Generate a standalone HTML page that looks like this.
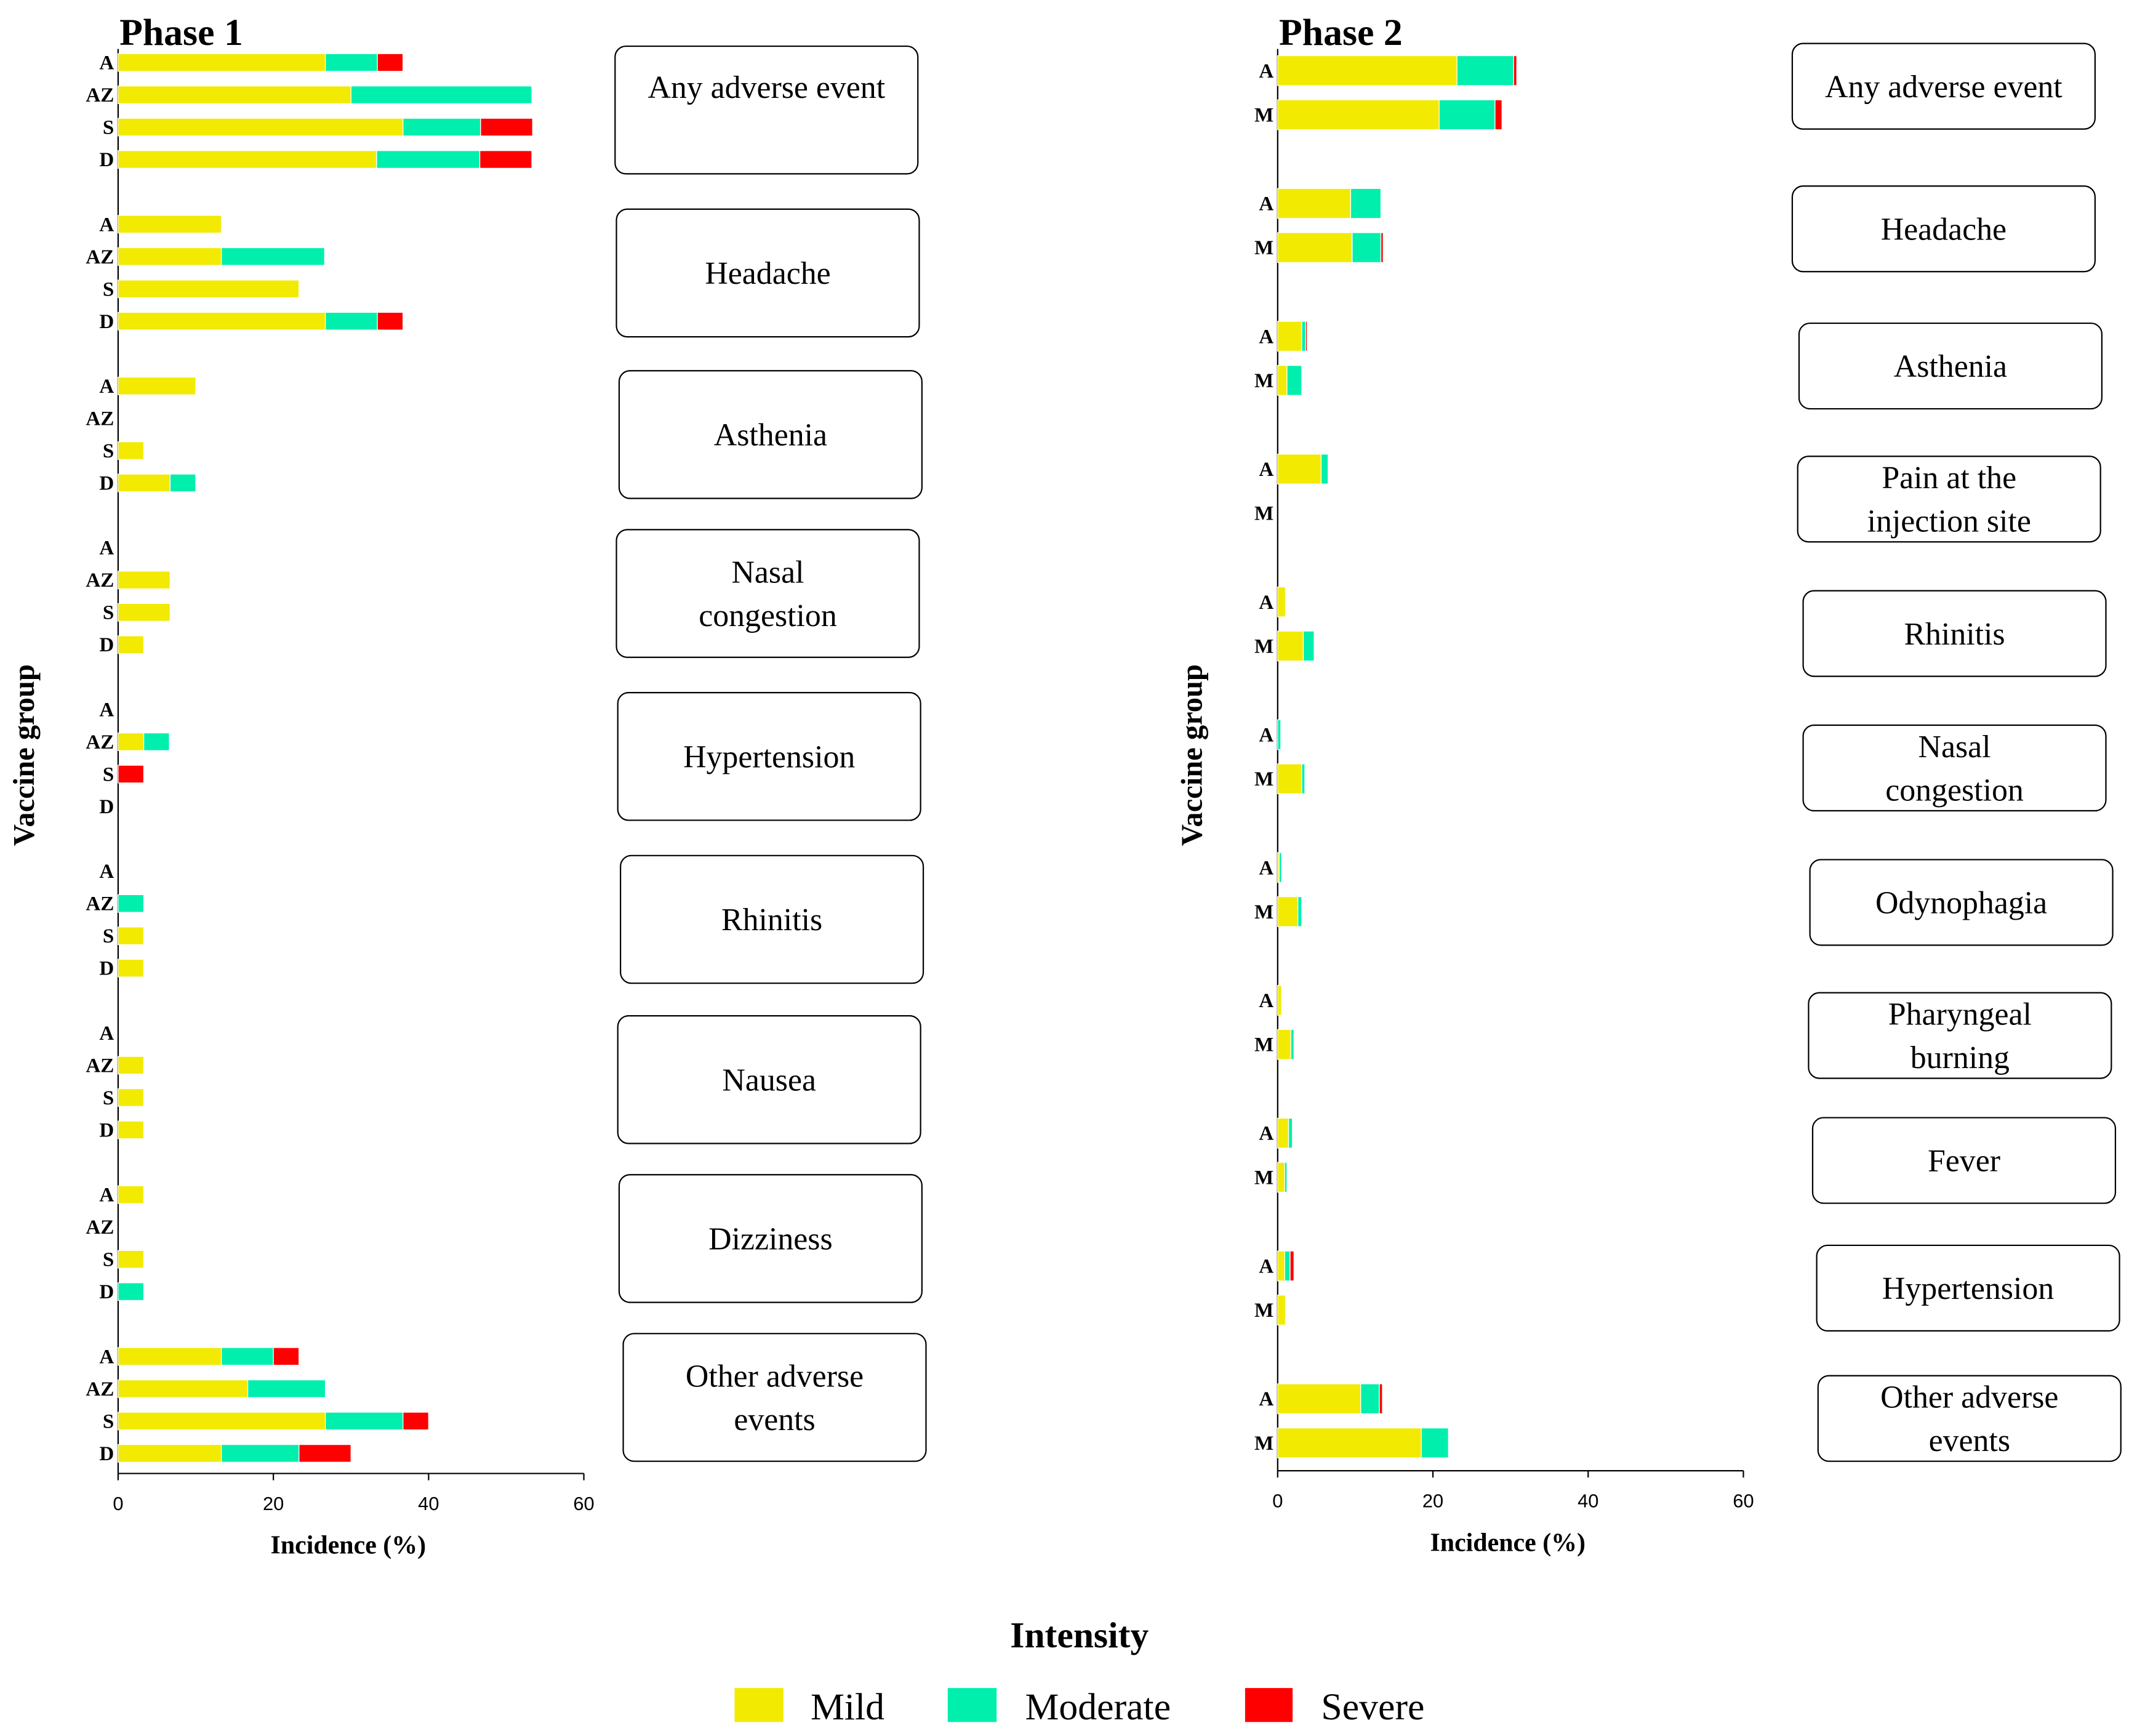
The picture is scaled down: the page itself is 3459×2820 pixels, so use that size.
<!DOCTYPE html>
<html><head><meta charset="utf-8"><style>
html,body{margin:0;padding:0;background:#fff;}
svg{display:block;}
</style></head><body>
<svg id="chart" width="3459" height="2820" viewBox="0 0 1568 1278.3" xmlns="http://www.w3.org/2000/svg" font-family="'Liberation Serif', serif">
<g id="p1"></g>
<g id="p2"></g>
<g id="legend">
  <text x="795" y="1213" text-anchor="middle" font-size="27" font-weight="bold">Intensity</text>
  <rect x="541" y="1243" width="36" height="25" fill="#f2ea00"/>
  <text x="597" y="1266" font-size="28">Mild</text>
  <rect x="698" y="1243" width="36" height="25" fill="#00efad"/>
  <text x="755" y="1266" font-size="28">Moderate</text>
  <rect x="917" y="1243" width="35" height="25" fill="#ff0000"/>
  <text x="973" y="1266" font-size="28">Severe</text>
</g>
</svg>
<script>
// Phase 1 data
const p1Groups = ["A","AZ","S","D"];
const p1Events = [["Any adverse event"],["Headache"],["Asthenia"],["Nasal","congestion"],["Hypertension"],["Rhinitis"],["Nausea"],["Dizziness"],["Other adverse","events"]];
const p1Mild = [[26.7,30,36.7,33.3],[13.3,13.3,23.3,26.7],[10,0,3.3,6.7],[0,6.7,6.7,3.3],[0,3.3,0,0],[0,0,3.3,3.3],[0,3.3,3.3,3.3],[3.3,0,3.3,0],[13.3,16.7,26.7,13.3]];
const p1Moderate = [[6.7,23.3,10,13.3],[0,13.3,0,6.7],[0,0,0,3.3],[0,0,0,0],[0,3.3,0,0],[0,3.3,0,0],[0,0,0,0],[0,0,0,3.3],[6.7,10,10,10]];
const p1Severe = [[3.3,0,6.7,6.7],[0,0,0,3.3],[0,0,0,0],[0,0,0,0],[0,0,3.3,0],[0,0,0,0],[0,0,0,0],[0,0,0,0],[3.3,0,3.3,6.7]];
// Phase 2 data
const p2Groups = ["A","M"];
const p2Events = [["Any adverse event"],["Headache"],["Asthenia"],["Pain at the","injection site"],["Rhinitis"],["Nasal","congestion"],["Odynophagia"],["Pharyngeal","burning"],["Fever"],["Hypertension"],["Other adverse","events"]];
const p2Mild = [[23.1,20.8],[9.4,9.6],[3.1,1.2],[5.6,0],[1.0,3.3],[0,3.1],[0.2,2.6],[0.5,1.7],[1.4,0.9],[0.9,1.0],[10.7,18.5]];
const p2Moderate = [[7.3,7.2],[3.9,3.7],[0.5,1.9],[0.9,0],[0,1.4],[0.4,0.4],[0.3,0.5],[0,0.4],[0.5,0.3],[0.7,0],[2.4,3.5]];
const p2Severe = [[0.4,0.9],[0,0.3],[0.2,0],[0,0],[0,0],[0,0],[0,0],[0,0],[0,0],[0.5,0],[0.4,0]];
const xTicks = [0,20,40,60];

const NS="http://www.w3.org/2000/svg";
const COLORS=["#f2ea00","#00efad","#ff0000"];
function mk(parent,tag,attrs,text){const e=document.createElementNS(NS,tag);for(const k in attrs)e.setAttribute(k,attrs[k]);if(text!==undefined)e.textContent=text;parent.appendChild(e);return e;}

function panel(g,cfg){
  const xs=v=>cfg.x0+v*(cfg.x1-cfg.x0)/60;
  const ax=mk(g,'line',{x1:cfg.x0,y1:cfg.yTop,x2:cfg.x0,y2:cfg.yAxis,stroke:'#000','stroke-width':1});
  
  
  const bx=mk(g,'line',{x1:cfg.x0,y1:cfg.yAxis,x2:cfg.x1,y2:cfg.yAxis,stroke:'#000','stroke-width':1});
  
  
  xTicks.forEach(t=>{
    const tk=mk(g,'line',{x1:xs(t),y1:cfg.yAxis,x2:xs(t),y2:cfg.yAxis+5,stroke:'#000','stroke-width':1});
    
    
    const tl=mk(g,'text',{x:xs(t),y:cfg.yAxis+27,'text-anchor':'middle','font-size':14,'font-family':"'Liberation Sans', sans-serif"},String(t));
    
    
  });
  const xt=mk(g,'text',{x:(cfg.x0+cfg.x1)/2-2,y:cfg.yAxis+59,'text-anchor':'middle','font-size':19,'font-weight':'bold'},'Incidence (%)');
  
  
  const yt=mk(g,'text',{x:0,y:0,'text-anchor':'middle','font-size':22,'font-weight':'bold',transform:`translate(${cfg.x0-cfg.ytOff},556) rotate(-90)`},'Vaccine group');
  
  
  const tt=mk(g,'text',{x:cfg.x0+1,y:33,'font-size':28,'font-weight':'bold'},cfg.title);
  
  
  cfg.events.forEach((ev,i)=>{
    cfg.groups.forEach((gr,j)=>{
      const cy=cfg.rowY(i,j);
      const lab=mk(g,'text',{x:cfg.x0-3,y:cy+5,'text-anchor':'end','font-size':15,'font-weight':'bold'},gr);
      
      
      let acc=0;
      [cfg.mild,cfg.mod,cfg.sev].forEach((arr,k)=>{
        const v=arr[i][j];
        if(v>0){
          const r=mk(g,'rect',{x:xs(acc),y:cy-cfg.bh/2,width:xs(acc+v)-xs(acc),height:cfg.bh,fill:COLORS[k],stroke:'#fff','stroke-width':0.6});
          
          
        }
        acc+=v;
      });
    });
    const b=cfg.boxes[i];
    const bxr=mk(g,'rect',{x:b[0],y:b[1],width:223,height:cfg.boxH,rx:8,fill:'#fff',stroke:'#000','stroke-width':1});
    
    
    const cx=b[0]+111.5;
    let ty;
    if(ev.length===1) ty = cfg.boxH>80 && i===0 ? b[1]+38 : b[1]+cfg.boxH/2+8;
    else ty=b[1]+cfg.boxH/2-8;
    ev.forEach((line,li)=>{
      const t=mk(g,'text',{x:cx,y:ty+li*32,'text-anchor':'middle','font-size':23.5},line);
      
      
    });
  });
}

panel(document.getElementById('p1'),{
  x0:87,x1:430,yTop:36,yAxis:1085,title:'Phase 1',ytOff:62,bh:13,boxH:94,
  groups:p1Groups,events:p1Events,mild:p1Mild,mod:p1Moderate,sev:p1Severe,
  rowY:(i,j)=>46+i*119.1+j*23.8,
  boxes:[[453,34],[454,154],[456,273],[454,390],[455,510],[457,630],[455,748],[456,865],[459,982]]
});
panel(document.getElementById('p2'),{
  x0:941,x1:1284,yTop:36,yAxis:1083,title:'Phase 2',ytOff:56,bh:22,boxH:63,
  groups:p2Groups,events:p2Events,mild:p2Mild,mod:p2Moderate,sev:p2Severe,
  rowY:(i,j)=>52+i*97.8+j*32.5,
  boxes:[[1320,32],[1320,137],[1325,238],[1324,336],[1328,435],[1328,534],[1333,633],[1332,731],[1335,823],[1338,917],[1339,1013]]
});
</script>
</body></html>
